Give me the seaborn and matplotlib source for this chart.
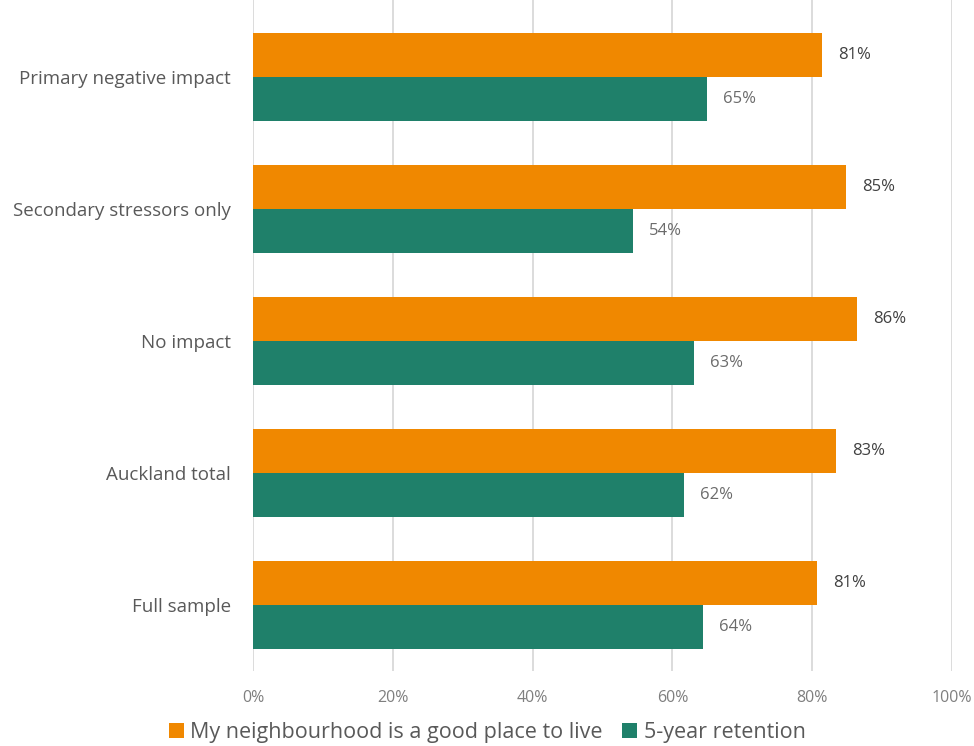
import matplotlib
matplotlib.use("Agg")
import matplotlib.pyplot as plt
import seaborn as sns
import pandas as pd
from matplotlib.patches import Patch

categories = ["Primary negative impact", "Secondary stressors only", "No impact",
              "Auckland total", "Full sample"]
series = ["My neighbourhood is a good place to live", "5-year retention"]
good_place = [81.4, 84.8, 86.4, 83.4, 80.7]
retention = [64.9, 54.4, 63.1, 61.7, 64.4]
xticks = [0, 20, 40, 60, 80, 100]
xtick_labels = ["0%", "20%", "40%", "60%", "80%", "100%"]
colors = ["#F08800", "#1F806A"]
label_colors = ["#404040", "#6b6b6b"]

df = pd.DataFrame({
    "category": categories * 2,
    "series": [series[0]] * 5 + [series[1]] * 5,
    "value": good_place + retention,
})

sns.set_theme(style="white")
plt.rcParams["font.family"] = ["Open Sans", "DejaVu Sans"]

fig = plt.figure(figsize=(9.74, 7.46), dpi=100)
ax = fig.add_axes([253 / 974, 1 - 671 / 746, (952 - 253) / 974, 671 / 746])

sns.barplot(data=df, y="category", x="value", hue="series", order=categories,
            hue_order=series, palette=colors, orient="h", width=0.667, gap=0,
            saturation=1, ax=ax, legend=False, linewidth=0)

ax.set_xlim(0, 100)
ax.set_ylim(4.5, -0.583)
ax.set_xticks(xticks)
ax.set_xticklabels(xtick_labels, fontsize=11.5, color="#7f7f7f")
ax.tick_params(axis="x", length=0, pad=14)
ax.tick_params(axis="y", length=0, pad=16, labelsize=13.5, labelcolor="#595959")
ax.set_xlabel("")
ax.set_ylabel("")
for s in ax.spines.values():
    s.set_visible(False)
ax.xaxis.grid(True, color="#d9d9d9", linewidth=1.3)
ax.set_axisbelow(True)

for i, cont in enumerate(ax.containers):
    texts = ax.bar_label(cont, labels=[f"{round(v)}%" for v in cont.datavalues],
                         padding=11.5, fontsize=12, color=label_colors[i])
    for t in texts:
        t.set_y(t.get_position()[1])
        t.set_va("center")
        t.set_position((t.get_position()[0], t.get_position()[1] + 0.012))

handles = [Patch(facecolor=c, edgecolor="none") for c in colors]
fig.legend(handles, series, loc="lower center", bbox_to_anchor=(0.5, -0.022), ncol=2,
           frameon=False, fontsize=15.5, handlelength=0.7, handleheight=0.7,
           handletextpad=0.3, columnspacing=0.9, labelcolor="#595959")

fig.savefig("out.png", dpi=100)
